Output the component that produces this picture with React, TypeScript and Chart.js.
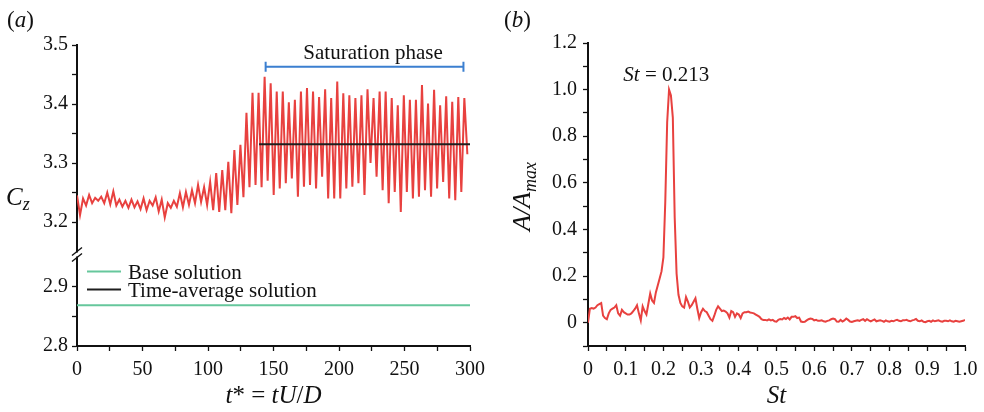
import React, { useEffect, useRef } from 'react';
import { Chart, registerables } from 'chart.js';

Chart.register(...registerables);

// ---------------- Panel (a) data ----------------
const T_STEP = 2.31; // time between samples (t* units)
const CZ_VALUES = [
  3.245, 3.212, 3.240, 3.228, 3.246, 3.232, 3.241, 3.236, 3.243, 3.232,
  3.250, 3.230, 3.252, 3.228, 3.238, 3.226, 3.236, 3.224, 3.238, 3.225,
  3.235, 3.222, 3.240, 3.220, 3.236, 3.228, 3.242, 3.218, 3.238, 3.208,
  3.232, 3.224, 3.236, 3.226,
  3.249, 3.225, 3.251, 3.229, 3.254, 3.232, 3.263, 3.234, 3.259, 3.229,
  3.268, 3.220, 3.283, 3.217, 3.288, 3.220, 3.302, 3.215, 3.322, 3.229,
  3.331, 3.242, 3.385, 3.259, 3.419, 3.263, 3.419, 3.259,
  3.446, 3.270, 3.435, 3.246, 3.421, 3.257, 3.421, 3.266, 3.403, 3.274,
  3.407, 3.243, 3.421, 3.260, 3.427, 3.263, 3.421, 3.257, 3.412, 3.277,
  3.425, 3.240, 3.410, 3.240, 3.438, 3.240, 3.418, 3.257, 3.415, 3.260,
  3.410, 3.266, 3.415, 3.246, 3.425, 3.300, 3.410, 3.277, 3.421, 3.254,
  3.421, 3.232, 3.410, 3.251, 3.398, 3.217, 3.415, 3.251, 3.407, 3.240,
  3.407, 3.243, 3.432, 3.254, 3.401, 3.243, 3.424, 3.257, 3.398, 3.268,
  3.413, 3.240, 3.404, 3.237, 3.412, 3.251, 3.410, 3.315,
];
const BASE_CZ = 2.869;
const MEAN_CZ = 3.332;
const MEAN_START = 139;
const T_MAX = 300;
const SAT_START = 144;
const SAT_END = 295;
const SAT_LEVEL = 3.463;
const SAT_LABEL_T = 226;
const T_TICKS = [0, 50, 100, 150, 200, 250, 300];
const CZ_UPPER_TICKS = [3.2, 3.3, 3.4, 3.5];
const CZ_LOWER_TICKS = [2.8, 2.9];
const CZ_UPPER_RANGE = [3.145, 3.5];
const CZ_LOWER_RANGE = [2.8, 2.955];
const LEGEND_LABELS = ['Base solution', 'Time-average solution'];

// ---------------- Panel (b) data ----------------
const ST_STEP = 0.005;
const AMP_VALUES = [
  0.000, 0.060, 0.063, 0.060, 0.065, 0.075, 0.080, 0.084, 0.030, 0.020,
  0.015, 0.040, 0.055, 0.060, 0.065, 0.075, 0.040, 0.030, 0.055, 0.045,
  0.040, 0.035, 0.035, 0.040, 0.050, 0.060, 0.075, 0.040, 0.010, 0.070,
  0.050, 0.035, 0.080, 0.125, 0.095, 0.085, 0.130, 0.160, 0.190, 0.220,
  0.280, 0.520, 0.860, 1.000, 0.975, 0.880, 0.450, 0.210, 0.120, 0.085,
  0.070, 0.065, 0.110, 0.090, 0.065, 0.075, 0.090, 0.105, 0.060, 0.020,
  0.045, 0.060, 0.050, 0.045, 0.030, 0.015, 0.008, 0.030, 0.055, 0.070,
  0.060, 0.050, 0.052, 0.048, 0.040, 0.022, 0.050, 0.045, 0.025, 0.040,
  0.035, 0.020, 0.040, 0.045, 0.045, 0.048, 0.044, 0.042, 0.040, 0.035,
  0.030, 0.025, 0.015, 0.012, 0.012, 0.010, 0.014, 0.010, 0.012, 0.006,
  0.004, 0.012, 0.016, 0.014, 0.020, 0.016, 0.022, 0.014, 0.025, 0.025,
  0.028, 0.020, 0.022, 0.005, 0.003, 0.004, 0.010, 0.015, 0.018, 0.016,
  0.010, 0.012, 0.008, 0.008, 0.010, 0.006, 0.004, 0.008, 0.010, 0.015,
  0.018, 0.015, 0.005, 0.004, 0.012, 0.005, 0.010, 0.018, 0.012, 0.005,
  0.003, 0.006, 0.008, 0.010, 0.008, 0.012, 0.015, 0.008, 0.015, 0.010,
  0.006, 0.010, 0.014, 0.006, 0.008, 0.010, 0.008, 0.004, 0.010, 0.006,
  0.004, 0.008, 0.006, 0.010, 0.012, 0.008, 0.006, 0.010, 0.010, 0.012,
  0.008, 0.006, 0.010, 0.012, 0.016, 0.008, 0.006, 0.010, 0.004, 0.002,
  0.006, 0.008, 0.004, 0.010, 0.006, 0.008, 0.010, 0.006, 0.004, 0.008,
  0.008, 0.006, 0.010, 0.006, 0.004, 0.008, 0.006, 0.004, 0.006, 0.008,
  0.012,
];
const PEAK_ST = 0.213;
const PEAK_AMP = 1.0;
const ST_TICKS = [0, 0.1, 0.2, 0.3, 0.4, 0.5, 0.6, 0.7, 0.8, 0.9, 1.0];
const AMP_TICKS = [0, 0.2, 0.4, 0.6, 0.8, 1.0, 1.2];
const AMP_RANGE = [-0.1, 1.2];

// ---------------- styling ----------------
const RED = '#e8413f';
const GREEN = '#66c79c';
const BLUE = '#3b7fd0';
const BLACK = '#1e1e1e';
const INK = '#111111';
const SERIF = '"Liberation Serif", "DejaVu Serif", serif';
const TICK_SIZE = 20;
const NOTE_SIZE = 21;
const TITLE_SIZE = 25;

type Part = { t: string; it?: boolean; size: number; dy?: number };

function fontOf(p: Part) {
  return `${p.it ? 'italic ' : ''}${p.size}px ${SERIF}`;
}

function drawRich(ctx: CanvasRenderingContext2D, parts: Part[], x: number, y: number, align: 'left' | 'center') {
  let w = 0;
  for (const p of parts) {
    ctx.font = fontOf(p);
    w += ctx.measureText(p.t).width;
  }
  let cx = align === 'center' ? x - w / 2 : x;
  ctx.textAlign = 'left';
  ctx.textBaseline = 'alphabetic';
  for (const p of parts) {
    ctx.font = fontOf(p);
    ctx.fillText(p.t, cx, y + (p.dy || 0));
    cx += ctx.measureText(p.t).width;
  }
}

function withMinor(major: number[], extra: number[] = []) {
  const vals = [...major];
  for (let i = 0; i < major.length - 1; i++) vals.push((major[i] + major[i + 1]) / 2);
  vals.push(...extra);
  return vals.sort((a, b) => a - b).map((v) => ({ value: v }));
}

function isMajor(v: number, major: number[]) {
  return major.some((m) => Math.abs(m - v) < 1e-9);
}

function axisCommon(major: number[], fmt: (v: number) => string, pad: number) {
  return {
    grid: {
      drawOnChartArea: false,
      drawTicks: true,
      tickLength: 5,
      tickColor: INK,
      tickWidth: 1.3,
    },
    border: { display: true, color: INK, width: 2 },
    ticks: {
      autoSkip: false,
      maxRotation: 0,
      minRotation: 0,
      color: INK,
      font: { family: SERIF, size: TICK_SIZE },
      padding: pad,
      callback: (value: any) => (isMajor(Number(value), major) ? fmt(Number(value)) : ''),
    },
  };
}

function fitX(s: any) {
  s.height = 66;
  s.paddingLeft = 0;
  s.paddingRight = 0;
}

function PanelA() {
  const ref = useRef<HTMLCanvasElement | null>(null);
  useEffect(() => {
    const canvas = ref.current;
    if (!canvas) return;
    const decor = {
      id: 'decorA',
      afterDraw(chart: any) {
        const { ctx, chartArea, scales } = chart;
        const xs = scales.x;
        const yU = scales.yUp;
        const yL = scales.yLow;
        ctx.save();
        ctx.fillStyle = INK;
        // panel label
        drawRich(ctx, [{ t: '(', size: 23 }, { t: 'a', it: true, size: 23 }, { t: ')', size: 23 }], 7, 27, 'left');
        // y title C_z
        const cy = (chartArea.top + chartArea.bottom) / 2 + 9;
        drawRich(ctx, [{ t: 'C', it: true, size: 25 }, { t: 'z', it: true, size: 18, dy: 5 }], 6, cy, 'left');
        // x title
        drawRich(
          ctx,
          [
            { t: 't', it: true, size: TITLE_SIZE },
            { t: '*', size: TITLE_SIZE },
            { t: ' = ', size: TITLE_SIZE },
            { t: 'tU', it: true, size: TITLE_SIZE },
            { t: '/', size: TITLE_SIZE },
            { t: 'D', it: true, size: TITLE_SIZE },
          ],
          (chartArea.left + chartArea.right) / 2,
          403,
          'center'
        );
        // legend
        const legendColors = [GREEN, BLACK];
        const lx = chartArea.left + 10;
        let ly = yL.top + 17;
        LEGEND_LABELS.forEach((lab, i) => {
          ctx.strokeStyle = legendColors[i];
          ctx.lineWidth = 2;
          ctx.beginPath();
          ctx.moveTo(lx, ly);
          ctx.lineTo(lx + 34, ly);
          ctx.stroke();
          ctx.fillStyle = INK;
          drawRich(ctx, [{ t: lab, size: NOTE_SIZE }], lx + 41, ly + 7, 'left');
          ly += 18;
        });
        // saturation bracket
        const bx0 = xs.getPixelForValue(SAT_START);
        const bx1 = xs.getPixelForValue(SAT_END);
        const by = yU.getPixelForValue(SAT_LEVEL);
        ctx.strokeStyle = BLUE;
        ctx.lineWidth = 2;
        ctx.beginPath();
        ctx.moveTo(bx0, by);
        ctx.lineTo(bx1, by);
        ctx.moveTo(bx0, by - 5);
        ctx.lineTo(bx0, by + 5);
        ctx.moveTo(bx1, by - 5);
        ctx.lineTo(bx1, by + 5);
        ctx.stroke();
        ctx.fillStyle = INK;
        drawRich(ctx, [{ t: 'Saturation phase', size: NOTE_SIZE }], xs.getPixelForValue(SAT_LABEL_T), by - 8, 'center');
        // axis break
        const x0 = chartArea.left;
        const yb = yU.bottom;
        ctx.fillStyle = '#ffffff';
        ctx.fillRect(x0 - 3, yb - 2, 6, 4);
        ctx.strokeStyle = INK;
        ctx.lineWidth = 1.4;
        ctx.beginPath();
        for (const d of [-3, 3]) {
          ctx.moveTo(x0 - 5, yb + d + 4);
          ctx.lineTo(x0 + 5, yb + d - 4);
        }
        ctx.stroke();
        ctx.restore();
      },
    };

    const chart = new Chart(canvas, {
      type: 'line',
      data: {
        datasets: [
          {
            label: LEGEND_LABELS[1],
            data: [
              { x: MEAN_START, y: MEAN_CZ },
              { x: T_MAX, y: MEAN_CZ },
            ],
            yAxisID: 'yUp',
            borderColor: BLACK,
            borderWidth: 2,
            pointRadius: 0,
            order: 0,
          },
          {
            label: 'Cz',
            data: CZ_VALUES.map((v, i) => ({ x: i * T_STEP, y: v })),
            yAxisID: 'yUp',
            borderColor: RED,
            borderWidth: 2,
            pointRadius: 0,
            tension: 0,
            order: 1,
          },
          {
            label: LEGEND_LABELS[0],
            data: [
              { x: 0, y: BASE_CZ },
              { x: T_MAX, y: BASE_CZ },
            ],
            yAxisID: 'yLow',
            borderColor: GREEN,
            borderWidth: 2,
            pointRadius: 0,
            order: 2,
          },
        ],
      },
      options: {
        animation: false,
        responsive: false,
        maintainAspectRatio: false,
        layout: { padding: { top: 45, right: 20, left: 0, bottom: 0 } },
        plugins: { legend: { display: false }, tooltip: { enabled: false }, title: { display: false } },
        scales: {
          x: {
            type: 'linear',
            min: 0,
            max: T_MAX,
            afterBuildTicks: (s: any) => {
              s.ticks = withMinor(T_TICKS);
            },
            afterFit: fitX,
            ...axisCommon(T_TICKS, (v) => String(v), 7),
          } as any,
          yLow: {
            type: 'linear',
            position: 'left',
            stack: 'cz',
            stackWeight: CZ_LOWER_RANGE[1] - CZ_LOWER_RANGE[0],
            min: CZ_LOWER_RANGE[0],
            max: CZ_LOWER_RANGE[1],
            afterBuildTicks: (s: any) => {
              s.ticks = withMinor(CZ_LOWER_TICKS);
            },
            afterFit: (s: any) => {
              s.width = 77;
            },
            ...axisCommon(CZ_LOWER_TICKS, (v) => v.toFixed(1), 4),
          } as any,
          yUp: {
            type: 'linear',
            position: 'left',
            stack: 'cz',
            stackWeight: CZ_UPPER_RANGE[1] - CZ_UPPER_RANGE[0],
            min: CZ_UPPER_RANGE[0],
            max: CZ_UPPER_RANGE[1],
            afterBuildTicks: (s: any) => {
              s.ticks = withMinor(CZ_UPPER_TICKS);
            },
            afterFit: (s: any) => {
              s.width = 77;
            },
            ...axisCommon(CZ_UPPER_TICKS, (v) => v.toFixed(1), 4),
          } as any,
        },
      } as any,
      plugins: [decor],
    });
    return () => chart.destroy();
  }, []);
  return <canvas ref={ref} width={490} height={412} style={{ position: 'absolute', left: 0, top: 0, width: 490, height: 412 }} />;
}

function PanelB() {
  const ref = useRef<HTMLCanvasElement | null>(null);
  useEffect(() => {
    const canvas = ref.current;
    if (!canvas) return;
    const fmt = (v: number) => (Math.abs(v) < 1e-9 ? '0' : v.toFixed(1));
    const decor = {
      id: 'decorB',
      afterDraw(chart: any) {
        const { ctx, chartArea, scales } = chart;
        const xs = scales.x;
        const ys = scales.y;
        ctx.save();
        ctx.fillStyle = INK;
        drawRich(ctx, [{ t: '(', size: 23 }, { t: 'b', it: true, size: 23 }, { t: ')', size: 23 }], 14, 27, 'left');
        // peak annotation
        drawRich(
          ctx,
          [
            { t: 'St', it: true, size: NOTE_SIZE },
            { t: ` = ${PEAK_ST}`, size: NOTE_SIZE },
          ],
          xs.getPixelForValue(PEAK_ST) - 2,
          ys.getPixelForValue(PEAK_AMP) - 9,
          'center'
        );
        // x title
        drawRich(ctx, [{ t: 'St', it: true, size: TITLE_SIZE }], (chartArea.left + chartArea.right) / 2, 403, 'center');
        // y title (rotated)
        ctx.translate(40, (chartArea.top + chartArea.bottom) / 2 + 2);
        ctx.rotate(-Math.PI / 2);
        drawRich(
          ctx,
          [
            { t: 'A', it: true, size: 26 },
            { t: '/', it: true, size: 26 },
            { t: 'A', it: true, size: 26 },
            { t: 'max', it: true, size: 18, dy: 6 },
          ],
          0,
          0,
          'center'
        );
        ctx.restore();
      },
    };
    const chart = new Chart(canvas, {
      type: 'line',
      data: {
        datasets: [
          {
            label: 'A/Amax',
            data: AMP_VALUES.map((v, i) => ({ x: i * ST_STEP, y: v })),
            borderColor: RED,
            borderWidth: 2,
            pointRadius: 0,
            tension: 0,
          },
        ],
      },
      options: {
        animation: false,
        responsive: false,
        maintainAspectRatio: false,
        layout: { padding: { top: 43, right: 19, left: 0, bottom: 0 } },
        plugins: { legend: { display: false }, tooltip: { enabled: false } },
        scales: {
          x: {
            type: 'linear',
            min: 0,
            max: 1,
            afterBuildTicks: (s: any) => {
              s.ticks = withMinor(ST_TICKS);
            },
            afterFit: fitX,
            ...axisCommon(ST_TICKS, fmt, 7),
          } as any,
          y: {
            type: 'linear',
            position: 'left',
            min: AMP_RANGE[0],
            max: AMP_RANGE[1],
            afterBuildTicks: (s: any) => {
              s.ticks = withMinor(AMP_TICKS, [-0.1]);
            },
            afterFit: (s: any) => {
              s.width = 98;
            },
            ...axisCommon(AMP_TICKS, fmt, 6),
          } as any,
        },
      } as any,
      plugins: [decor],
    });
    return () => chart.destroy();
  }, []);
  return <canvas ref={ref} width={494} height={412} style={{ position: 'absolute', left: 490, top: 0, width: 494, height: 412 }} />;
}

export default function App() {
  return (
    <div style={{ position: 'fixed', left: 0, top: 0, width: 984, height: 412, background: '#ffffff', overflow: 'hidden' }}>
      <PanelA />
      <PanelB />
    </div>
  );
}
